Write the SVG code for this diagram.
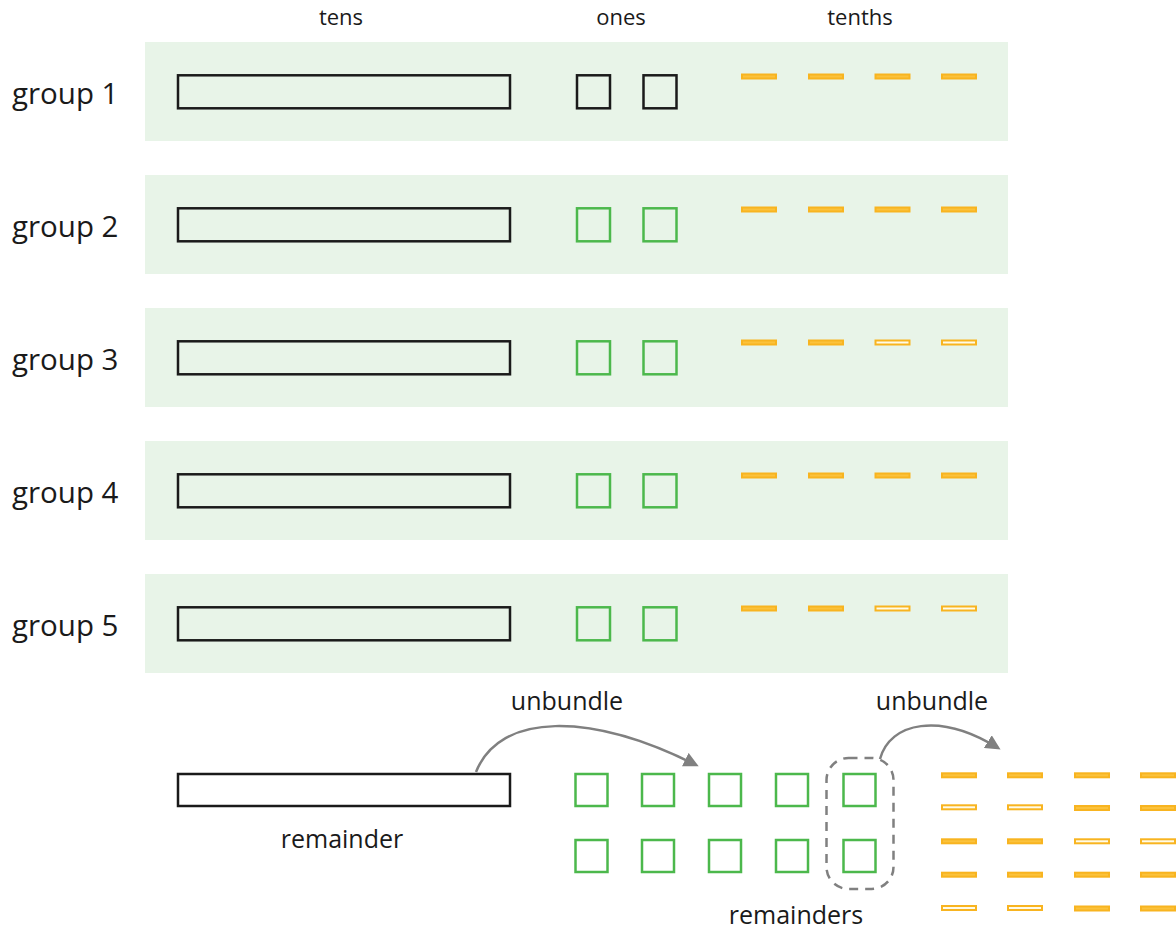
<svg xmlns="http://www.w3.org/2000/svg" width="1176" height="935" viewBox="0 0 1176 935">
  <style>
    .band { fill: #e8f4e8; }
    .ten { fill: none; stroke: #1a1a1a; stroke-width: 2.5; }
    .one-k { fill: none; stroke: #1a1a1a; stroke-width: 2.5; }
    .one { fill: none; stroke: #4cb84c; stroke-width: 2.5; }
    .tenth { fill: #fbc23c; stroke: #f8b420; stroke-width: 2; }
    .tenth-o { fill: #fffbe8; stroke: #f8b420; stroke-width: 2; }
    .lbl { font-family: "Open Sans", "Liberation Sans", sans-serif; fill: #1a1a1a; }
    .head { font-size: 22px; text-anchor: middle; }
    .grp { font-size: 29.5px; }
    .note { font-size: 25px; text-anchor: middle; }
    .conn { fill: none; stroke: #808080; stroke-width: 2.5; }
    .dash { fill: none; stroke: #808080; stroke-width: 2.5; stroke-dasharray: 9 7; }
  </style>
  <defs>
    <marker id="arrow" viewBox="0 0 10 10" refX="8" refY="5" markerWidth="6" markerHeight="6" orient="auto" markerUnits="strokeWidth">
      <path d="M0,0 L10,5 L0,10 Z" fill="#808080"/>
    </marker>
  </defs>

  <rect width="1176" height="935" fill="#ffffff"/>

  <!-- column headings -->
  <g id="headings" class="lbl head">
    <text x="341" y="25">tens</text>
    <text x="621" y="25">ones</text>
    <text x="860" y="25">tenths</text>
  </g>

  <!-- group 1 -->
  <g id="group1">
    <rect class="band" x="145" y="42" width="863" height="99"/>
    <text class="lbl grp" x="12" y="104">group 1</text>
    <rect class="ten" x="178" y="75.3" width="332" height="33"/>
    <rect class="one-k" x="577" y="75.3" width="33" height="33"/>
    <rect class="one-k" x="643.5" y="75.3" width="33" height="33"/>
    <rect class="tenth" x="742" y="74.5" width="34" height="4"/>
    <rect class="tenth" x="809" y="74.5" width="34" height="4"/>
    <rect class="tenth" x="875.5" y="74.5" width="34" height="4"/>
    <rect class="tenth" x="942" y="74.5" width="34" height="4"/>
  </g>

  <!-- group 2 -->
  <g id="group2">
    <rect class="band" x="145" y="175" width="863" height="99"/>
    <text class="lbl grp" x="12" y="237">group 2</text>
    <rect class="ten" x="178" y="208.3" width="332" height="33"/>
    <rect class="one" x="577" y="208.3" width="33" height="33"/>
    <rect class="one" x="643.5" y="208.3" width="33" height="33"/>
    <rect class="tenth" x="742" y="207.5" width="34" height="4"/>
    <rect class="tenth" x="809" y="207.5" width="34" height="4"/>
    <rect class="tenth" x="875.5" y="207.5" width="34" height="4"/>
    <rect class="tenth" x="942" y="207.5" width="34" height="4"/>
  </g>

  <!-- group 3 -->
  <g id="group3">
    <rect class="band" x="145" y="308" width="863" height="99"/>
    <text class="lbl grp" x="12" y="370">group 3</text>
    <rect class="ten" x="178" y="341.3" width="332" height="33"/>
    <rect class="one" x="577" y="341.3" width="33" height="33"/>
    <rect class="one" x="643.5" y="341.3" width="33" height="33"/>
    <rect class="tenth" x="742" y="340.5" width="34" height="4"/>
    <rect class="tenth" x="809" y="340.5" width="34" height="4"/>
    <rect class="tenth-o" x="875.5" y="340.5" width="34" height="4"/>
    <rect class="tenth-o" x="942" y="340.5" width="34" height="4"/>
  </g>

  <!-- group 4 -->
  <g id="group4">
    <rect class="band" x="145" y="441" width="863" height="99"/>
    <text class="lbl grp" x="12" y="503">group 4</text>
    <rect class="ten" x="178" y="474.3" width="332" height="33"/>
    <rect class="one" x="577" y="474.3" width="33" height="33"/>
    <rect class="one" x="643.5" y="474.3" width="33" height="33"/>
    <rect class="tenth" x="742" y="473.5" width="34" height="4"/>
    <rect class="tenth" x="809" y="473.5" width="34" height="4"/>
    <rect class="tenth" x="875.5" y="473.5" width="34" height="4"/>
    <rect class="tenth" x="942" y="473.5" width="34" height="4"/>
  </g>

  <!-- group 5 -->
  <g id="group5">
    <rect class="band" x="145" y="574" width="863" height="99"/>
    <text class="lbl grp" x="12" y="636">group 5</text>
    <rect class="ten" x="178" y="607.3" width="332" height="33"/>
    <rect class="one" x="577" y="607.3" width="33" height="33"/>
    <rect class="one" x="643.5" y="607.3" width="33" height="33"/>
    <rect class="tenth" x="742" y="606.5" width="34" height="4"/>
    <rect class="tenth" x="809" y="606.5" width="34" height="4"/>
    <rect class="tenth-o" x="875.5" y="606.5" width="34" height="4"/>
    <rect class="tenth-o" x="942" y="606.5" width="34" height="4"/>
  </g>

  <!-- leftover ten -->
  <g id="remainder-ten">
    <rect class="ten" x="178" y="774" width="332" height="32"/>
    <text class="lbl note" x="342" y="848">remainder</text>
  </g>

  <!-- unbundled ones -->
  <g id="remainder-ones">
    <rect class="one" x="575.5" y="774" width="32" height="32"/>
    <rect class="one" x="642" y="774" width="32" height="32"/>
    <rect class="one" x="709" y="774" width="32" height="32"/>
    <rect class="one" x="776" y="774" width="32" height="32"/>
    <rect class="one" x="843.5" y="774" width="32" height="32"/>
    <rect class="one" x="575.5" y="840" width="32" height="32"/>
    <rect class="one" x="642" y="840" width="32" height="32"/>
    <rect class="one" x="709" y="840" width="32" height="32"/>
    <rect class="one" x="776" y="840" width="32" height="32"/>
    <rect class="one" x="843.5" y="840" width="32" height="32"/>
  </g>

  <!-- leftover ones circled -->
  <g id="remainders">
    <rect class="dash" x="826.5" y="758" width="67" height="131" rx="22" ry="22"/>
    <text class="lbl note" x="796" y="924">remainders</text>
  </g>

  <!-- unbundled tenths -->
  <g id="remainder-tenths">
    <rect class="tenth" x="942" y="773.3" width="34" height="4"/>
    <rect class="tenth" x="1008" y="773.3" width="34" height="4"/>
    <rect class="tenth" x="1075" y="773.3" width="34" height="4"/>
    <rect class="tenth" x="1141" y="773.3" width="34" height="4"/>

    <rect class="tenth-o" x="942" y="805.3" width="34" height="4"/>
    <rect class="tenth-o" x="1008" y="805.3" width="34" height="4"/>
    <rect class="tenth" x="1075" y="806" width="34" height="4"/>
    <rect class="tenth" x="1141" y="806" width="34" height="4"/>

    <rect class="tenth" x="942" y="839.3" width="34" height="4"/>
    <rect class="tenth" x="1008" y="839.3" width="34" height="4"/>
    <rect class="tenth-o" x="1075" y="839.3" width="34" height="4"/>
    <rect class="tenth-o" x="1141" y="839.3" width="34" height="4"/>

    <rect class="tenth" x="942" y="872.7" width="34" height="4"/>
    <rect class="tenth" x="1008" y="872.7" width="34" height="4"/>
    <rect class="tenth" x="1075" y="872.7" width="34" height="4"/>
    <rect class="tenth" x="1141" y="872.7" width="34" height="4"/>

    <rect class="tenth-o" x="942" y="906" width="34" height="4"/>
    <rect class="tenth-o" x="1008" y="906" width="34" height="4"/>
    <rect class="tenth" x="1075" y="906.5" width="34" height="4"/>
    <rect class="tenth" x="1141" y="906.5" width="34" height="4"/>
  </g>

  <!-- unbundle connectors -->
  <g id="connectors">
    <path class="conn" d="M476,772 C500,712 590,712 696,765" marker-end="url(#arrow)"/>
    <text class="lbl note" x="567" y="710">unbundle</text>
    <path class="conn" d="M880,759 C890,722 940,712 998,748" marker-end="url(#arrow)"/>
    <text class="lbl note" x="932" y="710">unbundle</text>
  </g>
</svg>
